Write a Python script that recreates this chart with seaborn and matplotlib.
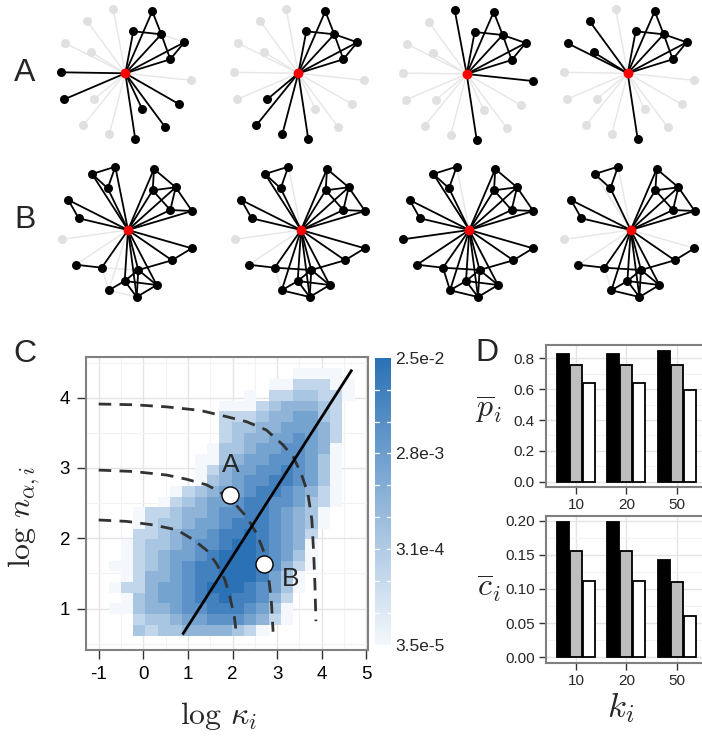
import numpy as np
import pandas as pd
import matplotlib
matplotlib.use("Agg")
import matplotlib.pyplot as plt
import seaborn as sns
from matplotlib.colors import LinearSegmentedColormap

sns.set_theme(style="white")
plt.rcParams["font.family"] = ["Liberation Sans", "DejaVu Sans"]
plt.rcParams["mathtext.fontset"] = "cm"

# ---------------- data ----------------
# ego network (rows A): leaf layout relative to the ego (pixels, y down)
A_LAYOUT_X = [-12, -38, -60, -34, 66, -31, -42, -16, 27, 8, 36, 59, 45, -64, -61, 17, 54, 40, 10]
A_LAYOUT_Y = [-64, -52, -30, -21, 7, 26, 52, 61, -62, -42, -39, -31, -14, -1, 26, 36, 31, 54, 66]
A_LINKS = [(8, 10), (9, 10), (10, 11), (10, 12), (11, 12)]
A_ACTIVE = [
    [8, 9, 10, 11, 12, 13, 14, 15, 16, 17, 18],
    [5, 6, 7, 8, 9, 10, 11, 12, 18],
    [0, 4, 8, 9, 10, 11, 12, 18],
    [1, 2, 3, 8, 9, 10, 11, 12, 18],
]
A_GRAY_LINKS = [[(10, 11)], [], [], []]

# ego network (rows B)
B_LAYOUT_X = [-12.7, -36, -20.3, 26, 24.7, 47.7, 42.3, 64, -59.7, -49.3, -66.3, 63.7, 44,
              -52.3, -26.3, 10.3, -3.3, 28.7, -19.3, 8.7]
B_LAYOUT_Y = [-63.3, -56, -41.7, -61, -39.7, -42.7, -20, -19, -30, -11.7, 9.3, 18.3, 30.3,
              34.7, 37.7, 40, 51, 55, 60.3, 67]
B_LINKS = [(0, 1), (1, 2), (0, 2),
           (3, 4), (3, 5), (4, 5), (4, 6), (5, 6), (5, 7), (6, 7),
           (8, 9), (11, 12), (13, 14), (12, 15),
           (14, 15), (14, 18), (15, 16), (15, 17), (15, 19), (16, 17), (16, 18),
           (16, 19), (17, 19), (18, 19)]
B_INACTIVE = [[10], [10], [], [10]]
B_GRAY_HUB = [[10, 13, 18], [10, 0, 13], [0], [10, 0, 1, 11, 13]]
B_GRAY_LINKS = [[(14, 15), (14, 18), (18, 19)], [(14, 18)], [], [(14, 18)]]

# panel C: density level per cell (top row first), 0 = empty
HEAT_LEVELS = [
    "00000000000000011110",
    "00000000000001133311",
    "00000000000103344331",
    "00000000011134555430",
    "00000000033345566430",
    "00000000034455666530",
    "00000000034556676530",
    "00000000144566776510",
    "00000001145667776410",
    "00000001356677876410",
    "00000001456778876410",
    "00000134566788765310",
    "00001345667887764310",
    "00133455677887654100",
    "00134456678887654100",
    "00334566788987653000",
    "01344567789987651000",
    "01345667899987641000",
    "11345678899987531000",
    "01355678899986410000",
    "13356678999876410000",
    "01456678898875300000",
    "11455677888764100000",
    "00344566777653100000",
    "00434455554310000000",
]
CBAR_LABELS = ["3.5e-5", "3.1e-4", "2.8e-3", "2.5e-2"]

CURVE1_X = [-1.0, -0.22, 0.52, 1.27, 1.87, 2.31, 2.76, 3.13, 3.36, 3.54, 3.69, 3.78, 3.82, 3.85, 3.87]
CURVE1_Y = [3.91, 3.90, 3.87, 3.82, 3.73, 3.66, 3.54, 3.33, 3.16, 2.92, 2.64, 2.26, 1.79, 1.31, 0.82]
CURVE2_X = [-1.0, -0.22, 0.52, 0.97, 1.42, 1.72, 2.01, 2.31, 2.54, 2.69, 2.80, 2.87, 2.91]
CURVE2_Y = [2.97, 2.95, 2.90, 2.84, 2.76, 2.66, 2.52, 2.31, 2.07, 1.83, 1.50, 1.12, 0.67]
CURVE3_X = [-1.0, -0.37, 0.22, 0.75, 1.12, 1.42, 1.64, 1.83, 1.94, 2.04, 2.09]
CURVE3_Y = [2.26, 2.24, 2.19, 2.12, 1.98, 1.83, 1.64, 1.41, 1.17, 0.89, 0.63]
LINE_X = [0.88, 4.68]
LINE_Y = [0.63, 4.40]
POINT_NAMES = ["A", "B"]
POINT_X = [1.94, 2.71]
POINT_Y = [2.61, 1.635]

# panel D
K_VALUES = ["10", "20", "50"]
SERIES = ["s1", "s2", "s3"]
P_BAR = {"s1": [0.828, 0.828, 0.848], "s2": [0.758, 0.758, 0.755], "s3": [0.640, 0.640, 0.597]}
C_BAR = {"s1": [0.198, 0.198, 0.143], "s2": [0.156, 0.156, 0.110], "s3": [0.112, 0.112, 0.061]}

# ---------------- figure ----------------
W, H = 702, 740
fig = plt.figure(figsize=(W / 100, H / 100), dpi=100)


def px_axes(l, t, w, h):
    return fig.add_axes([l / W, 1 - (t + h) / H, w / W, h / H])


def ftext(x, y, s, **kw):
    kw.setdefault("ha", "center")
    kw.setdefault("va", "center")
    fig.text(x / W, 1 - y / H, s, **kw)


BLACK = "#000000"
GRAY = "#e6e6e6"
GRAY_NODE = "#e0e0e0"


def draw_net(ax, lx, ly, links, active, gray_hub, gray_links):
    act = set(active)
    for i in range(len(lx)):
        blk = (i in act) and (i not in gray_hub)
        ax.plot([0, lx[i]], [0, ly[i]], color=BLACK if blk else GRAY,
                lw=1.3 if blk else 1.0, zorder=2 if blk else 1, solid_capstyle="round")
    for (i, j) in links:
        blk = (i in act) and (j in act) and ((i, j) not in gray_links)
        ax.plot([lx[i], lx[j]], [ly[i], ly[j]], color=BLACK if blk else GRAY,
                lw=1.3 if blk else 1.0, zorder=2 if blk else 1, solid_capstyle="round")
    ina = [i for i in range(len(lx)) if i not in act]
    ac = sorted(act)
    ax.scatter([lx[i] for i in ina], [ly[i] for i in ina], s=42, color=GRAY_NODE,
               linewidths=0, zorder=3)
    ax.scatter([lx[i] for i in ac], [ly[i] for i in ac], s=42, color=BLACK,
               linewidths=0, zorder=4)
    ax.scatter([0], [0], s=50, color="#ff0000", linewidths=0, zorder=5)
    ax.set_xlim(-80, 80)
    ax.set_ylim(80, -80)
    ax.set_axis_off()


A_HUBS = [(125.3, 73.3), (298.3, 73.3), (466.7, 74), (627.7, 73.3)]
B_HUBS = [(128, 230), (301, 230), (469.3, 230), (630.7, 230)]
for k, (cx, cy) in enumerate(A_HUBS):
    ax = px_axes(cx - 80, cy - 80, 160, 160)
    draw_net(ax, A_LAYOUT_X, A_LAYOUT_Y, A_LINKS, A_ACTIVE[k], [], A_GRAY_LINKS[k])
for k, (cx, cy) in enumerate(B_HUBS):
    ax = px_axes(cx - 80, cy - 80, 160, 160)
    act = [i for i in range(len(B_LAYOUT_X)) if i not in B_INACTIVE[k]]
    draw_net(ax, B_LAYOUT_X, B_LAYOUT_Y, B_LINKS, act, B_GRAY_HUB[k], B_GRAY_LINKS[k])

# ---------------- panel C ----------------
x_edges = -0.78 + 0.276 * np.arange(21)
y_edges = 0.616 + 0.152 * np.arange(26)
nrows = len(HEAT_LEVELS)
rec = []
for i, row in enumerate(HEAT_LEVELS):
    r = nrows - 1 - i
    for c, ch in enumerate(row):
        if ch != "0":
            rec.append(((x_edges[c] + x_edges[c + 1]) / 2, (y_edges[r] + y_edges[r + 1]) / 2, int(ch)))
heat_df = pd.DataFrame(rec, columns=["x", "y", "w"])

cmap = LinearSegmentedColormap.from_list("bl", ["#f4f8fc", "#2a71b5"])
axc = px_axes(86, 357.3, 282.3, 292.7)
axc.set_facecolor("white")
axc.set_axisbelow(True)
sns.histplot(data=heat_df, x="x", y="y", weights="w", bins=(x_edges, y_edges),
             cmap=cmap, ax=axc, cbar=False)
mesh = axc.collections[0]
mesh.set_clim(1, 9)
mesh.set_edgecolor("none")
mesh.set_zorder(1)

axc.set_xlim(-1.285, 5.045)
axc.set_ylim(0.41, 4.575)
axc.set_xticks([-1, 0, 1, 2, 3, 4, 5])
axc.set_xticklabels(["-1", "0", "1", "2", "3", "4", "5"])
axc.set_yticks([1, 2, 3, 4])
axc.set_xticks(np.arange(-0.5, 5.0, 1.0), minor=True)
axc.set_yticks(np.arange(0.5, 4.6, 1.0), minor=True)
axc.grid(True, which="major", color="#e4e4e4", lw=1.0, zorder=0)
axc.grid(True, which="minor", color="#f2f2f2", lw=0.8, zorder=0)
axc.tick_params(which="major", direction="out", length=6.5, width=1, color="#333333",
                labelsize=13.5, pad=5, bottom=True, left=True, labelcolor="black")
axc.tick_params(which="minor", length=0)
for sp in axc.spines.values():
    sp.set_color("#808080")
    sp.set_linewidth(1.5)
axc.set_xlabel("")
axc.set_ylabel("")

for cx_, cy_ in [(CURVE1_X, CURVE1_Y), (CURVE2_X, CURVE2_Y), (CURVE3_X, CURVE3_Y)]:
    axc.plot(cx_, cy_, color="#333333", lw=2.0, dashes=(4.5, 3), zorder=3)
axc.plot(LINE_X, LINE_Y, color="black", lw=2.0, zorder=4, solid_capstyle="butt")
axc.scatter(POINT_X, POINT_Y, s=150, color="white", edgecolors="black", linewidths=1.0, zorder=5)
axc.text(1.96, 3.04, POINT_NAMES[0], fontsize=19, ha="center", va="center", zorder=6)
axc.text(3.31, 1.42, POINT_NAMES[1], fontsize=19, ha="center", va="center", zorder=6)

cax = px_axes(375, 357.7, 16, 287.3)
cb = fig.colorbar(mesh, cax=cax)
cb.outline.set_visible(False)
cb.set_ticks([1, 1 + 8 / 3, 1 + 16 / 3, 9])
cb.set_ticklabels(CBAR_LABELS)
cax.tick_params(length=0, labelsize=12.5, pad=3)
for v in np.linspace(1, 9, 10)[1:-1]:
    cax.plot([0, 0.22], [v, v], color="white", lw=0.9, transform=cax.get_yaxis_transform(), zorder=5)
    cax.plot([0.78, 1], [v, v], color="white", lw=0.9, transform=cax.get_yaxis_transform(), zorder=5)

# ---------------- panel D ----------------
def bar_df(d):
    rows = []
    for s in SERIES:
        for k, v in zip(K_VALUES, d[s]):
            rows.append((k, s, v))
    return pd.DataFrame(rows, columns=["k", "series", "v"])


def style_d(ax, ylim, yticks, ylabels, minor):
    ax.set_xlim(-0.6, 2.6)
    ax.set_ylim(*ylim)
    ax.set_yticks(yticks)
    ax.set_yticklabels(ylabels)
    ax.set_yticks(minor, minor=True)
    ax.set_axisbelow(True)
    ax.grid(True, which="major", color="#e4e4e4", lw=1.0)
    ax.grid(True, which="minor", axis="y", color="#f2f2f2", lw=0.8)
    ax.tick_params(which="major", direction="out", length=5, width=1, color="#333333",
                   labelsize=11, pad=3, bottom=True, left=True)
    ax.tick_params(which="minor", length=0)
    for sp in ax.spines.values():
        sp.set_color("#808080")
        sp.set_linewidth(1.5)
    ax.set_xlabel("")
    ax.set_ylabel("")


pal = ["#000000", "#bebebe", "#ffffff"]
axd1 = px_axes(545.7, 345, 161.3, 141.7)
sns.barplot(data=bar_df(P_BAR), x="k", y="v", hue="series", order=K_VALUES, hue_order=SERIES,
            palette=pal, saturation=1, edgecolor="black", linewidth=1.3, width=0.78, gap=0.08,
            legend=False, ax=axd1)
style_d(axd1, (-0.032, 0.886), [0, 0.2, 0.4, 0.6, 0.8], ["0.0", "0.2", "0.4", "0.6", "0.8"],
        [0.1, 0.3, 0.5, 0.7])

axd2 = px_axes(545.7, 515.7, 161.3, 147)
sns.barplot(data=bar_df(C_BAR), x="k", y="v", hue="series", order=K_VALUES, hue_order=SERIES,
            palette=pal, saturation=1, edgecolor="black", linewidth=1.3, width=0.78, gap=0.08,
            legend=False, ax=axd2)
style_d(axd2, (-0.0079, 0.2073), [0, 0.05, 0.10, 0.15, 0.20],
        ["0.00", "0.05", "0.10", "0.15", "0.20"], [0.025, 0.075, 0.125, 0.175])

# ---------------- labels ----------------
ftext(25, 73, "A", fontsize=23)
ftext(25, 220, "B", fontsize=23)
ftext(25, 354, "C", fontsize=23)
ftext(487, 353, "D", fontsize=23)
ftext(219, 716, r"$\log\,\kappa_i$", fontsize=23)
ftext(24, 517, r"$\log\,n_{\alpha,i}$", fontsize=23, rotation=90)
ftext(489, 410, r"$\overline{p}_i$", fontsize=23)
ftext(489, 588, r"$\overline{c}_i$", fontsize=23)
ftext(621, 708, r"$k_i$", fontsize=25)

fig.savefig("out.png", dpi=100)
